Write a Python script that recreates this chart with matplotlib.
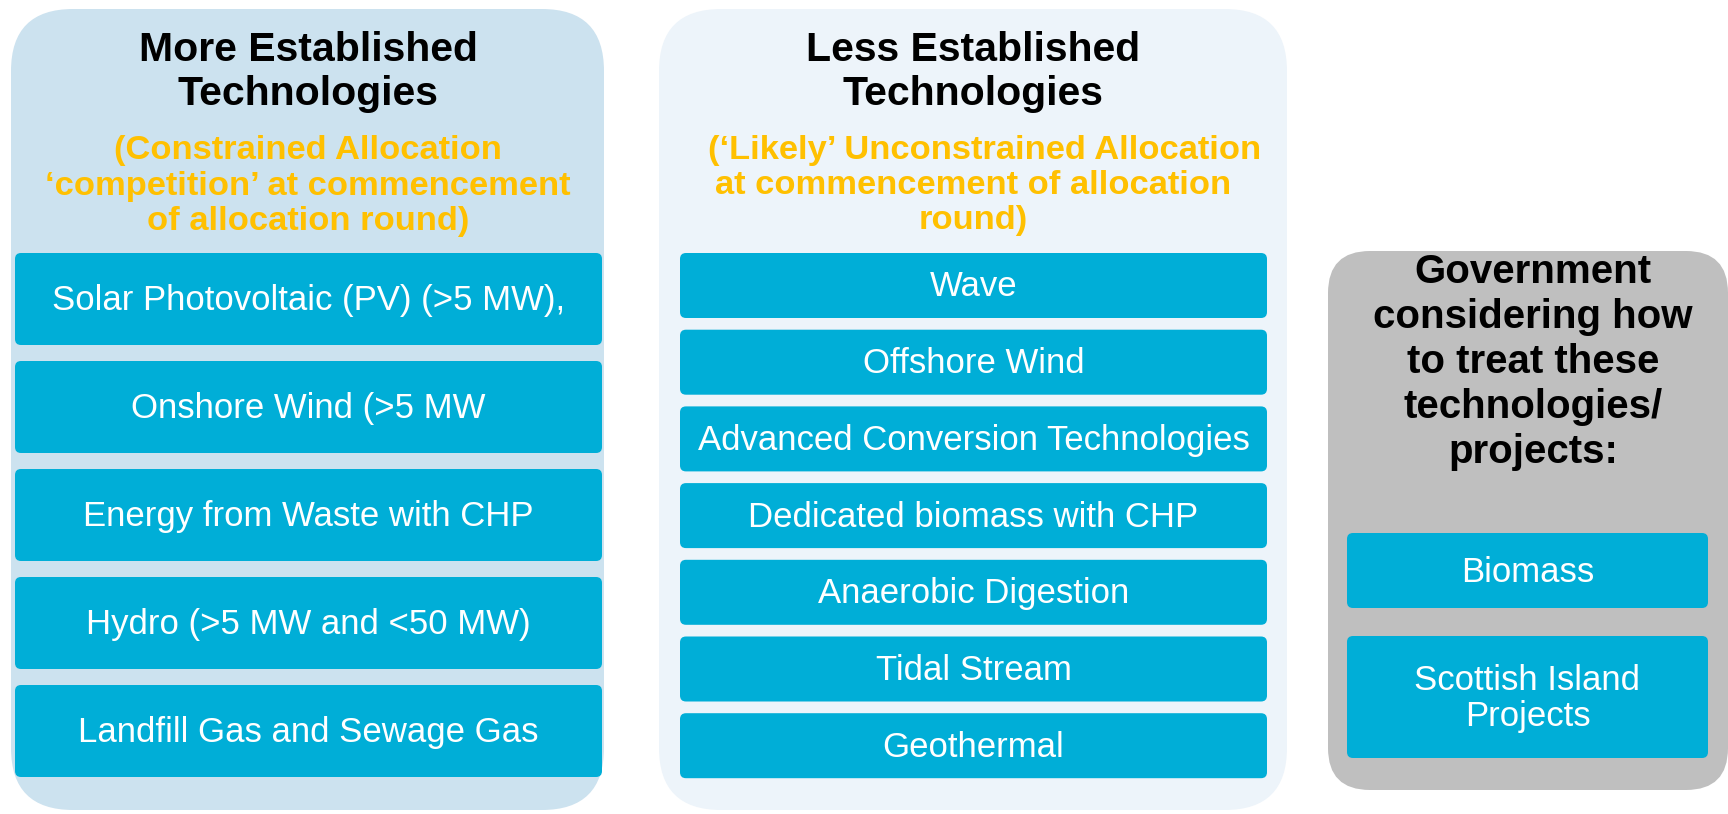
import matplotlib.pyplot as plt
from matplotlib.patches import FancyBboxPatch

plt.rcParams['font.family'] = ['Liberation Sans', 'DejaVu Sans']

# Panel contents
left_title = ["More Established", "Technologies"]
left_note = ["(Constrained Allocation", "\u2018competition\u2019 at commencement", "of allocation round)"]
left_items = ["Solar Photovoltaic (PV) (>5 MW),", "Onshore Wind (>5 MW", "Energy from Waste with CHP",
              "Hydro (>5 MW and <50 MW)", "Landfill Gas and Sewage Gas"]

mid_title = ["Less Established", "Technologies"]
mid_note = ["(\u2018Likely\u2019 Unconstrained Allocation", "at commencement of allocation", "round)"]
mid_items = ["Wave", "Offshore Wind", "Advanced Conversion Technologies", "Dedicated biomass with CHP",
             "Anaerobic Digestion", "Tidal Stream", "Geothermal"]

right_title = ["Government", "considering how", "to treat these", "technologies/", "projects:"]
right_items = ["Biomass", "Scottish Island\nProjects"]

# Colours
box_blue = "#00AED7"
orange = "#FFC000"

W, H = 1728, 814
fig = plt.figure(figsize=(W / 100, H / 100), dpi=100)
ax = fig.add_axes([0, 0, 1, 1])
ax.set_xlim(0, W)
ax.set_ylim(H, 0)
ax.axis("off")


def panel(x0, y0, x1, y1, color, r):
    ax.add_patch(FancyBboxPatch((x0, y0), x1 - x0, y1 - y0,
                                boxstyle=f"round,pad=0,rounding_size={r}",
                                fc=color, ec="none"))


def lines(cx, y_first, step, texts, **kw):
    for i, t in enumerate(texts):
        ax.text(cx, y_first + i * step, t, ha="center", va="baseline", **kw)


def item_box(x0, y0, x1, y1, label, size=25):
    panel(x0, y0, x1, y1, box_blue, 6)
    parts = label.split("\n")
    cy = (y0 + y1) / 2
    step = 36
    start = cy - step * (len(parts) - 1) / 2 - 2
    for i, p in enumerate(parts):
        ax.text((x0 + x1) / 2, start + i * step, p, ha="center", va="center_baseline",
                color="white", fontsize=size)


# Left panel
panel(11, 9, 604, 810, "#CCE2EF", 62)
lines(308, 61, 44, left_title, fontsize=29.5, fontweight="bold", color="black")
lines(308, 159, 35.5, left_note, fontsize=24.8, fontweight="bold", color=orange)
for i, label in enumerate(left_items):
    y0 = 253 + i * 108
    item_box(15, y0, 602, y0 + 92, label)

# Middle panel
panel(659, 9, 1287, 810, "#EDF4FA", 62)
lines(973, 61, 44, mid_title, fontsize=29.5, fontweight="bold", color="black")
ax.text(985, 159, mid_note[0], ha="center", va="baseline", fontsize=24.8, fontweight="bold", color=orange)
lines(973, 159 + 35, 35, mid_note[1:], fontsize=24.8, fontweight="bold", color=orange)
for i, label in enumerate(mid_items):
    y0 = 253 + i * 76.7
    item_box(680, y0, 1267, y0 + 65, label)

# Right panel
panel(1328, 251, 1728, 790, "#BFBFBF", 42)
lines(1533, 283, 45, right_title, fontsize=29, fontweight="bold", color="black")
item_box(1347, 533, 1708, 608, right_items[0])
item_box(1347, 636, 1708, 758, right_items[1])

fig.savefig("out.png", dpi=100)
